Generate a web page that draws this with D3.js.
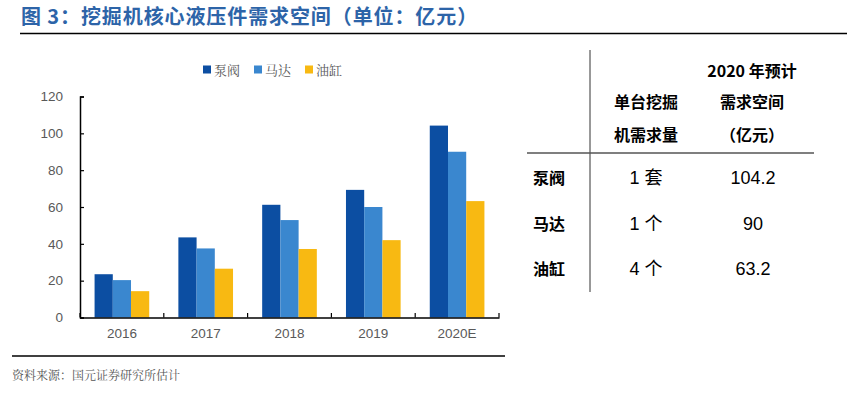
<!DOCTYPE html>
<html><head><meta charset="utf-8">
<script src="https://cdn.jsdelivr.net/npm/d3@7"></script>
<style>body{margin:0;background:#fff;}svg{display:block;}</style>
</head><body>
<svg id="c" width="847" height="397"></svg>
<script>
const categories = ["2016","2017","2018","2019","2020E"];
const seriesNames = ["泵阀","马达","油缸"];
const pumpValve = [23.5,43.5,61.2,69.3,104.2];
const motor = [20.3,37.5,52.9,60.0,90.0];
const cylinder = [14.3,26.5,37.2,42.0,63.2];
const yTicks = [0,20,40,60,80,100,120];
const colors = ["#0C4EA2","#3A87CF","#F8B912"];
const tableHeader1 = ["单台挖掘","机需求量"];
const tableHeader2 = ["2020 年预计","需求空间","（亿元）"];
const tableRows = ["泵阀","马达","油缸"];
const tableUnits = ["1 套","1 个","4 个"];
const tableValues = ["104.2","90","63.2"];

const svg = d3.select("#c");
const serif = "'Noto Serif CJK SC','Noto Sans CJK SC',serif";
const cjk = "'Noto Sans CJK SC',sans-serif";
const lat = "'Liberation Sans',Arial,sans-serif";

// title
svg.append("text").attr("x",21).attr("y",24).attr("fill","#2D64A8")
  .attr("font-family",cjk).attr("font-weight","bold").attr("font-size",20).attr("letter-spacing",0.9)
  .text("图 3：挖掘机核心液压件需求空间（单位：亿元）");
svg.append("line").attr("x1",20).attr("x2",847).attr("y1",33.5).attr("y2",33.5).attr("stroke","#000").attr("stroke-width",1.5);

// chart
const x0 = d3.scaleBand().domain(categories).range([80,499]).paddingInner(0).paddingOuter(0);
const x1 = d3.scaleBand().domain(seriesNames).range([0,x0.bandwidth()]).paddingInner(0).paddingOuter(0.8);
const y = d3.scaleLinear().domain([0,120]).range([317.5,96.5]);
const data = [pumpValve,motor,cylinder];

const g = svg.append("g");
seriesNames.forEach((s,si)=>{
  g.selectAll(null).data(categories).enter().append("rect")
    .attr("x",(c)=>x0(c)+x1(s))
    .attr("width",x1.bandwidth())
    .attr("y",(c,i)=>y(data[si][i]))
    .attr("height",(c,i)=>y(0)-y(data[si][i]))
    .attr("fill",colors[si]);
});

const yAxis = g.append("g").attr("transform","translate(80,0)")
  .call(d3.axisLeft(y).tickValues(yTicks).tickSize(-4).tickPadding(17));
yAxis.select(".domain").attr("stroke","#000").attr("stroke-width",1.5);
yAxis.selectAll(".tick line").attr("stroke","#000").attr("stroke-width",1.2);
yAxis.selectAll("text").attr("font-family",lat).attr("font-size",13.5).attr("fill","#595959");

const xAxis = g.append("g").attr("transform","translate(0,317.5)")
  .call(d3.axisBottom(x0).tickSize(0).tickPadding(11));
xAxis.select(".domain").attr("stroke","#000").attr("stroke-width",1.5);
xAxis.selectAll("text").attr("font-family",lat).attr("font-size",13.5).attr("fill","#595959");
const bt = d3.range(categories.length+1).map(i=>80+i*x0.bandwidth());
g.selectAll(null).data(bt).enter().append("line")
  .attr("x1",d=>d).attr("x2",d=>d).attr("y1",317.5).attr("y2",313).attr("stroke","#000").attr("stroke-width",1.2);

// legend
const legX = [203,254,305];
seriesNames.forEach((s,i)=>{
  svg.append("rect").attr("x",legX[i]).attr("y",65.5).attr("width",8).attr("height",8).attr("fill",colors[i]);
  svg.append("text").attr("x",legX[i]+11).attr("y",74.5).attr("font-family",serif).attr("font-size",13).attr("fill","#595959").text(s);
});

// table
svg.append("line").attr("x1",590).attr("x2",590).attr("y1",50).attr("y2",292).attr("stroke","#333").attr("stroke-width",1);
svg.append("line").attr("x1",527).attr("x2",814).attr("y1",153).attr("y2",153).attr("stroke","#555").attr("stroke-width",1.5);
const hdr = {"font-family":cjk,"font-weight":"bold","font-size":16,"fill":"#000","text-anchor":"middle"};
function T(x,yy,t,attrs){const e=svg.append("text").attr("x",x).attr("y",yy).text(t);Object.entries(attrs).forEach(([k,v])=>e.attr(k,v));return e;}
T(752,77,tableHeader2[0],hdr);
T(646,108,tableHeader1[0],hdr);
T(752,108,tableHeader2[1],hdr);
T(646,141,tableHeader1[1],hdr);
T(752,141,tableHeader2[2],hdr);
const rowY=[184,230,275];
const rowLab = {"font-family":cjk,"font-weight":"bold","font-size":16,"fill":"#000","text-anchor":"middle"};
const cell = {"font-family":lat,"font-size":18,"fill":"#000","text-anchor":"middle"};
tableRows.forEach((r,i)=>{
  T(549,rowY[i],r,rowLab);
  T(646,rowY[i],tableUnits[i],Object.assign({},cell,{"font-family":"'Liberation Sans','Noto Sans CJK SC',sans-serif"}));
  T(753,rowY[i],tableValues[i],cell);
});

// footer
svg.append("line").attr("x1",12).attr("x2",505).attr("y1",356).attr("y2",356).attr("stroke","#000").attr("stroke-width",1.5);
svg.append("text").attr("x",12).attr("y",380).attr("font-family",serif).attr("font-size",12).attr("fill","#555")
  .text("资料来源：国元证券研究所估计");
</script>
</body></html>
